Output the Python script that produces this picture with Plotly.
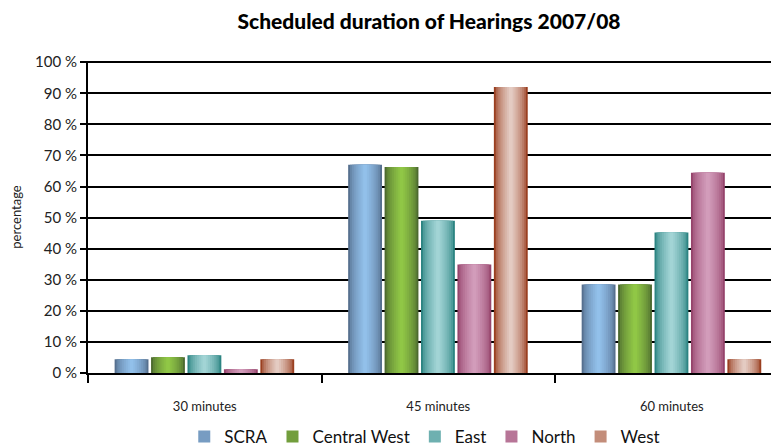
import plotly.graph_objects as go

categories = ["30 minutes", "45 minutes", "60 minutes"]
series_names = ["SCRA", "Central West", "East", "North", "West"]
scra = [4.4, 67.0, 28.5]
central_west = [5.1, 66.3, 28.5]
east = [5.7, 49.0, 45.2]
north = [1.2, 34.9, 64.4]
west = [4.4, 92.0, 4.4]
y_ticks = list(range(0, 101, 10))
y_tick_labels = [f"{v} %" for v in y_ticks]

series_values = [scra, central_west, east, north, west]
edge_colors = ["#56708f", "#4d6a30", "#2c8482", "#96446c", "#9a3f20"]
center_colors = ["#92c0ea", "#90c746", "#a2d4d5", "#d29cba", "#e4cbc2"]


def hex2rgb(h):
    h = h.lstrip("#")
    return tuple(int(h[i:i + 2], 16) for i in (0, 2, 4))


def mix(a, b, t):
    ra, rb = hex2rgb(a), hex2rgb(b)
    return "rgb(%d,%d,%d)" % tuple(round(ra[i] + (rb[i] - ra[i]) * t) for i in range(3))


fig = go.Figure()
K = 9
slot = 0.156
bw = 0.145
start = -0.386
for i, (name, vals) in enumerate(zip(series_names, series_values)):
    left = start + i * slot
    for k in range(K):
        frac = 1 - k / K
        w = bw * frac
        off = left + (bw - w) / 2
        t = (k / (K - 1)) ** 0.6
        fig.add_trace(go.Bar(
            x=categories, y=vals, name=name,
            width=[w] * len(vals), offset=[off] * len(vals),
            marker=dict(color=mix(edge_colors[i], center_colors[i], t), line=dict(width=0)),
            showlegend=(k == 3), legendgroup=name,
            hoverinfo="skip" if k else None,
        ))

fig.update_layout(
    width=779, height=446,
    margin=dict(l=80, r=8, t=53, b=81, autoexpand=False),
    barmode="overlay",
    paper_bgcolor="white", plot_bgcolor="white",
    font=dict(family="Lato, Open Sans, sans-serif", color="#222"),
    title=dict(text="Scheduled duration of Hearings 2007/08", x=0.4935, xref="paper",
               xanchor="center", y=0.969, yanchor="middle", yref="container",
               font=dict(size=21, color="#000", weight=900)),
    showlegend=True,
    legend=dict(orientation="h", x=0.535, xanchor="center", xref="container",
                y=0.038, yanchor="middle", yref="container",
                font=dict(size=17, color="#111"), bgcolor="rgba(0,0,0,0)",
                tracegroupgap=0),
    xaxis=dict(range=[-0.5, 2.459], showline=True, linecolor="#000", linewidth=2,
               ticks="outside", tickson="boundaries", ticklen=8, tickwidth=2, tickcolor="#000",
               tickfont=dict(size=13, color="#222"), ticklabelstandoff=20, showgrid=False),
    yaxis=dict(range=[0, 100.4], tickvals=y_ticks, ticktext=y_tick_labels,
               showline=True, linecolor="#000", linewidth=2,
               ticks="outside", ticklen=6, tickwidth=2, tickcolor="#000",
               tickfont=dict(size=15, color="#222"),
               showgrid=True, gridcolor="#000", gridwidth=2, zeroline=False,
               title=dict(text="percentage", font=dict(size=13, color="#222"), standoff=14)),
)

fig.write_html("out.html")
